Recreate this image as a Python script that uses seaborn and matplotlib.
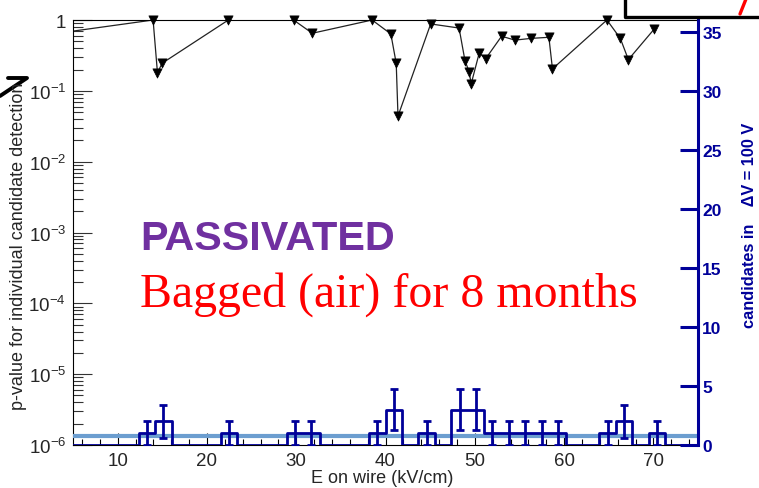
import numpy as np
import pandas as pd
import matplotlib
matplotlib.use("Agg")
import matplotlib.pyplot as plt
from matplotlib.lines import Line2D
from matplotlib.ticker import FixedLocator, FixedFormatter, LogLocator, NullFormatter, MultipleLocator
import seaborn as sns

# ---------------- data ----------------
E_kVcm = [3.5, 13.97, 14.46, 14.98, 22.4, 29.7, 31.8, 38.5, 40.6, 41.2, 41.4,
          45.06, 48.24, 48.9, 49.36, 49.6, 50.5, 51.2, 53.0, 54.5, 56.3, 58.3,
          58.7, 64.8, 66.3, 67.2, 70.1]
p_value = [0.656, 1.0, 0.18, 0.245, 1.0, 1.0, 0.65, 1.0, 0.635, 0.245, 0.044,
           0.88, 0.77, 0.267, 0.187, 0.126, 0.343, 0.282, 0.59, 0.52, 0.55, 0.57,
           0.204, 1.0, 0.55, 0.276, 0.746]

hist_lo, hist_hi, n_bins = 5.0, 75.0, 38
counts = [0, 0, 0, 0, 1, 2, 0, 0, 0, 1, 0, 0, 0, 1, 1, 0, 0, 0, 1, 3,
          0, 1, 0, 3, 3, 1, 1, 1, 1, 1, 0, 0, 1, 2, 0, 1, 0, 0]
background_level = 0.78

x_ticks = [10, 20, 30, 40, 50, 60, 70]
y_ticks = [1e-6, 1e-5, 1e-4, 1e-3, 1e-2, 1e-1, 1]
y_tick_labels = [r"$\mathdefault{10^{-6}}$", r"$\mathdefault{10^{-5}}$",
                 r"$\mathdefault{10^{-4}}$", r"$\mathdefault{10^{-3}}$",
                 r"$\mathdefault{10^{-2}}$", r"$\mathdefault{10^{-1}}$", "1"]
right_ticks = [0, 5, 10, 15, 20, 25, 30, 35]

xlabel = "E on wire (kV/cm)"
ylabel = "p-value for individual candidate detection"
ylabel_right = "candidates in    \u0394V = 100 V"
title_main = "PASSIVATED"
title_sub = "Bagged (air) for 8 months"

# ---------------- style ----------------
sns.set_theme(style="ticks")
plt.rcParams['font.family'] = ['Liberation Sans', 'DejaVu Sans']
plt.rcParams['mathtext.fontset'] = 'custom'
plt.rcParams['mathtext.rm'] = 'Liberation Sans'
plt.rcParams['mathtext.default'] = 'regular'

NAVY = '#000099'
LIGHT = '#6c9ed0'
W, H = 759, 489

def fx(px):
    return px / W

def fy(py):
    return 1 - py / H

fig = plt.figure(figsize=(W / 100, H / 100), dpi=100)
fig.patch.set_facecolor('white')
ax = fig.add_axes([fx(73), fy(446), (698 - 73) / W, (446 - 21) / H])
ax.set_facecolor('white')
ax2 = ax.twinx()

# ---------------- p-value curve ----------------
E_arr = np.array(E_kVcm)
p_arr = np.array(p_value)
sns.lineplot(x=E_arr, y=p_arr, ax=ax, color='#222222', lw=0.9, sort=False,
             estimator=None)
inside = (E_arr >= hist_lo) & (E_arr <= hist_hi)
sns.scatterplot(x=E_arr[inside], y=p_arr[inside], ax=ax, marker='v', s=44,
                color='black', edgecolor='black', linewidth=0.5,
                clip_on=False, zorder=5)
ax.set_yscale('log')
ax.set_xlim(hist_lo, hist_hi)
ax.set_ylim(1e-6, 1)

ax.xaxis.set_major_locator(FixedLocator(x_ticks))
ax.xaxis.set_minor_locator(MultipleLocator(2))
ax.yaxis.set_major_locator(FixedLocator(y_ticks))
ax.yaxis.set_major_formatter(FixedFormatter(y_tick_labels))
ax.yaxis.set_minor_locator(LogLocator(base=10, subs=np.arange(2, 10)))
ax.yaxis.set_minor_formatter(NullFormatter())

ax.tick_params(axis='x', which='major', direction='in', length=8.5, width=0.8,
               labelsize=13.5, pad=5, top=False, color='black')
ax.tick_params(axis='x', which='minor', direction='in', length=4.3, width=0.8,
               top=False, color='black')
ax.tick_params(axis='y', which='major', direction='in', length=14, width=0.8,
               labelsize=13.5, pad=5, right=False, color='#333333')
ax.tick_params(axis='y', which='minor', direction='in', length=7, width=0.8,
               right=False, color='#333333')
ax.set_xlabel('')
ax.set_ylabel('')

for s in ['left', 'top', 'bottom']:
    ax.spines[s].set_color('black')
    ax.spines[s].set_linewidth(0.8)
ax.spines['right'].set_visible(False)

# ---------------- histogram (right axis) ----------------
edges = np.linspace(hist_lo, hist_hi, n_bins + 1)
centers = 0.5 * (edges[:-1] + edges[1:])
hist_df = pd.DataFrame({'E': centers, 'n': counts})
ax2.axhline(background_level, color=LIGHT, lw=3, zorder=1)
sns.histplot(data=hist_df, x='E', weights='n', bins=n_bins,
             binrange=(hist_lo, hist_hi), element='step', fill=False,
             color=NAVY, lw=2, ax=ax2, zorder=3)
cnt = np.array(counts, dtype=float)
nz = cnt > 0
ax2.errorbar(centers[nz], cnt[nz], yerr=np.sqrt(cnt[nz]), fmt='none',
             ecolor=NAVY, elinewidth=2, capsize=2.6, capthick=2, zorder=4)
ax2.set_ylim(0, 36)
ax2.set_xlim(hist_lo, hist_hi)
ax2.yaxis.set_major_locator(FixedLocator(right_ticks))
ax2.tick_params(axis='y', which='major', direction='in', length=13, width=2.2,
                color=NAVY, labelcolor=NAVY, labelsize=12.5, pad=3,
                left=False, right=True)
for lab in ax2.get_yticklabels():
    lab.set_fontweight('bold')
ax2.spines['right'].set_color(NAVY)
ax2.spines['right'].set_linewidth(2.2)
for s in ['left', 'top', 'bottom']:
    ax2.spines[s].set_visible(False)
ax2.set_ylabel('')
ax2.set_xlabel('')
ax2.grid(False)
ax.grid(False)

# ---------------- texts ----------------
fig.text(fx(382), fy(479), xlabel, ha='center', va='center', fontsize=13)
fig.text(fx(19), fy(246), ylabel, ha='center', va='center', rotation=90,
         fontsize=13)
fig.text(fx(750), fy(225), ylabel_right, ha='center', va='center',
         rotation=90, fontsize=11.8, fontweight='bold', color=NAVY)
fig.text(fx(140), fy(250), title_main, ha='left', va='baseline', fontsize=29.8,
         fontweight='bold', color='#7030a0',
         family=['Liberation Sans', 'DejaVu Sans'])
fig.text(fx(140), fy(307), title_sub, ha='left', va='baseline', fontsize=34.5,
         color='red', family=['Liberation Serif', 'DejaVu Serif'])

# ---------------- slide overlays ----------------
fig.add_artist(Line2D([fx(625), fx(625), fx(759)], [fy(0), fy(17.5), fy(17.5)],
                      transform=fig.transFigure, color='black', lw=2.4))
fig.add_artist(Line2D([fx(740), fx(746)], [fy(15), fy(0)],
                      transform=fig.transFigure, color='red', lw=2.4))
fig.add_artist(Line2D([fx(0), fx(27), fx(8)], [fy(97), fy(79), fy(79)],
                      transform=fig.transFigure, color='black', lw=2.8))

fig.savefig('out.png', dpi=100)
